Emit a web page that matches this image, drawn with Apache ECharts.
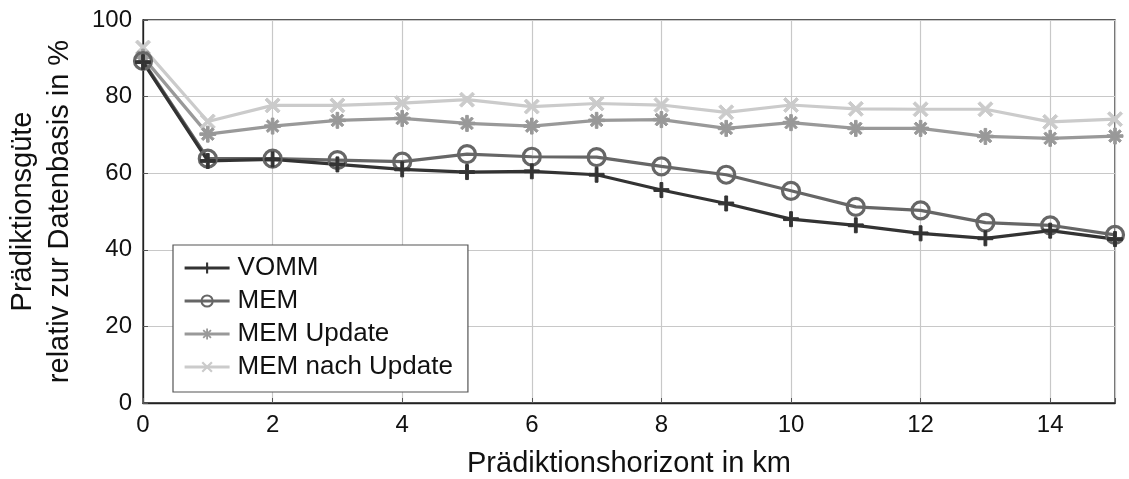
<!DOCTYPE html>
<html>
<head>
<meta charset="utf-8">
<script src="https://cdn.jsdelivr.net/npm/echarts@6/dist/echarts.min.js"></script>
<style>
  html, body { margin: 0; padding: 0; background: #fff; }
  #chart { width: 1129px; height: 479px; }
</style>
</head>
<body>
<div id="chart"></div>
<script>
// Prediction horizon in km
const horizon = [0, 1, 2, 3, 4, 5, 6, 7, 8, 9, 10, 11, 12, 13, 14, 15];

// Prediction quality relative to the database, in %
const vomm = [89.0, 63.2, 63.6, 62.3, 61.0, 60.3, 60.5, 59.6, 55.6, 52.1, 48.0, 46.4, 44.3, 43.0, 45.0, 42.8];
const mem = [89.3, 63.8, 63.8, 63.4, 63.0, 65.0, 64.3, 64.2, 61.8, 59.6, 55.4, 51.2, 50.3, 47.1, 46.4, 43.9];
const memUpdate = [90.3, 70.2, 72.3, 73.8, 74.3, 73.0, 72.3, 73.8, 74.0, 71.7, 73.2, 71.7, 71.7, 69.6, 69.1, 69.7];
const memNachUpdate = [92.8, 73.5, 77.7, 77.7, 78.3, 79.2, 77.4, 78.2, 77.8, 75.9, 77.8, 76.8, 76.7, 76.7, 73.4, 74.1];

const seriesNames = ['VOMM', 'MEM', 'MEM Update', 'MEM nach Update'];
const xTicks = [0, 2, 4, 6, 8, 10, 12, 14];
const yTicks = [0, 20, 40, 60, 80, 100];

const FONT = 'Liberation Sans, Arial, Helvetica, sans-serif';

// Marker shapes (filled outlines on a 16x16 box)
const PLUS = 'path://M6.5,0H9.5V6.5H16V9.5H9.5V16H6.5V9.5H0V6.5H6.5Z';
const CROSS = 'path://M0,2.2L2.2,0L16,13.8L13.8,16ZM13.8,0L16,2.2L2.2,16L0,13.8Z';
const STAR = 'path://M6.7,0H9.3V6.7H16V9.3H9.3V16H6.7V9.3H0V6.7H6.7ZM1.6,3.4L3.4,1.6L14.4,12.6L12.6,14.4ZM12.6,1.6L14.4,3.4L3.4,14.4L1.6,12.6Z';

function pairs(vals) {
  return horizon.map((h, i) => [h, vals[i]]);
}

function lineSeries(name, vals, color, symbol, size, extra) {
  return Object.assign({
    name: name,
    type: 'line',
    data: pairs(vals),
    symbol: symbol,
    symbolSize: size,
    showAllSymbol: true,
    lineStyle: { color: color, width: 3.2 },
    itemStyle: { color: color, borderColor: color },
    emphasis: { disabled: true },
    animation: false,
    z: 3
  }, extra || {});
}

const chart = echarts.init(document.getElementById('chart'), null, { renderer: 'canvas' });

chart.setOption({
  backgroundColor: '#ffffff',
  textStyle: { fontFamily: FONT },
  grid: {
    left: 143, right: 14, top: 20, bottom: 76,
    outerBoundsMode: 'none',
    containLabel: false,
    show: true, borderColor: '#222', borderWidth: 1.3, backgroundColor: 'transparent'
  },
  legend: {
    orient: 'vertical',
    left: 173, top: 245,
    padding: [10, 15, 12, 10],
    itemGap: 7,
    itemWidth: 45,
    itemHeight: 14,
    backgroundColor: '#fff',
    borderColor: '#555',
    borderWidth: 1.2,
    borderRadius: 0,
    lineStyle: { width: 3.2 },
    data: seriesNames,
    textStyle: { fontFamily: FONT, fontSize: 26, color: '#111', padding: [0, 0, 0, 3] }
  },
  xAxis: {
    type: 'value',
    min: 0, max: 15, interval: 2,
    name: 'Prädiktionshorizont in km',
    nameLocation: 'middle',
    nameGap: 46,
    nameTextStyle: { fontFamily: FONT, fontSize: 29, color: '#111' },
    axisLine: { show: true, lineStyle: { color: '#222', width: 1.3 } },
    axisTick: { show: true, inside: true, length: 5, lineStyle: { color: '#555' } },
    axisLabel: {
      fontFamily: FONT, fontSize: 24, color: '#111', margin: 10,
      formatter: v => (xTicks.indexOf(v) >= 0 ? String(v) : '')
    },
    splitLine: { show: true, lineStyle: { color: '#c8c8c8', width: 1.2 } }
  },
  yAxis: {
    type: 'value',
    min: 0, max: 100, interval: 20,
    name: 'Prädiktionsgüte\nrelativ zur Datenbasis in %',
    nameLocation: 'middle',
    nameRotate: 90,
    nameGap: 65,
    nameTextStyle: { fontFamily: FONT, fontSize: 29, color: '#111', lineHeight: 37 },
    axisLine: { show: true, lineStyle: { color: '#222', width: 1.3 } },
    axisTick: { show: true, inside: true, length: 5, lineStyle: { color: '#555' } },
    axisLabel: {
      fontFamily: FONT, fontSize: 24, color: '#111', margin: 11,
      formatter: v => (yTicks.indexOf(v) >= 0 ? String(v) : '')
    },
    splitLine: { show: true, lineStyle: { color: '#c8c8c8', width: 1.2 } }
  },
  series: [
    lineSeries('MEM nach Update', memNachUpdate, '#cbcbcb', CROSS, 15),
    lineSeries('MEM Update', memUpdate, '#999999', STAR, 16),
    lineSeries('MEM', mem, '#666666', 'circle', 17, {
      itemStyle: { color: 'transparent', borderColor: '#666666', borderWidth: 3.2 }
    }),
    lineSeries('VOMM', vomm, '#333333', PLUS, 15)
  ]
});
</script>
</body>
</html>
